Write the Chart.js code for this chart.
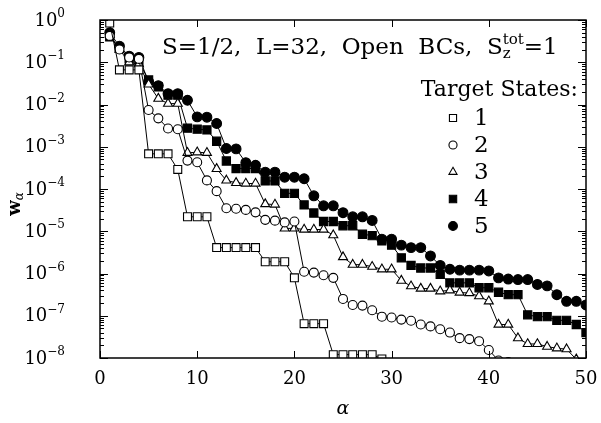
<!DOCTYPE html>
<html lang="en">
<head>
  <meta charset="UTF-8">
  <title>Target state weights, S=1/2 L=32</title>
  <script src="https://cdn.jsdelivr.net/npm/chart.js"></script>
  <style>
    body { margin: 0; background: #fff; }
    #wrap { width: 601px; height: 423px; }
  </style>
</head>
<body>
  <div id="wrap"><canvas id="chart" width="601" height="423"></canvas></div>

  <script>
    // alpha = 1, 2, 3 ... (w_alpha)
    const state1 = [0.85, 0.066, 0.066, 0.066, 6.8e-4, 6.8e-4, 6.8e-4, 2.9e-4, 2.2e-5, 2.2e-5,
      2.2e-5, 4.1e-6, 4.1e-6, 4.1e-6, 4.1e-6, 4.1e-6, 1.9e-6, 1.9e-6, 1.9e-6, 7.9e-7,
      6.5e-8, 6.5e-8, 6.5e-8, 1.2e-8, 1.2e-8, 1.2e-8, 1.2e-8, 1.2e-8, 9.5e-9, 1e-9];
    const state2 = [0.42, 0.2, 0.13, 0.12, 7.4e-3, 4.7e-3, 2.7e-3, 2.6e-3, 4.7e-4, 4.3e-4,
      1.6e-4, 8.9e-5, 3.5e-5, 3.4e-5, 3.2e-5, 2.8e-5, 1.86e-5, 1.78e-5, 1.62e-5, 1.7e-5,
      1.1e-6, 1.05e-6, 9.1e-7, 7.9e-7, 2.5e-7, 1.8e-7, 1.74e-7, 1.35e-7, 9.5e-8, 9.1e-8,
      8.1e-8, 7.6e-8, 6.2e-8, 5.6e-8, 4.8e-8, 4.0e-8, 2.95e-8, 2.8e-8, 2.5e-8, 1.55e-8,
      8.7e-9, 8.0e-9, 1e-9];
    const state3 = [0.45, 0.2, 0.1, 0.09, 0.03, 1.38e-2, 1.05e-2, 1.05e-2, 7.2e-4, 7.4e-4,
      7.2e-4, 3.0e-4, 1.6e-4, 1.4e-4, 1.35e-4, 1.35e-4, 4.4e-5, 4.3e-5, 1.17e-5, 1.17e-5,
      1.1e-5, 1.1e-5, 1.1e-5, 8.1e-6, 2.45e-6, 1.62e-6, 1.62e-6, 1.45e-6, 1.26e-6, 1.26e-6,
      6.8e-7, 5.0e-7, 4.4e-7, 4.4e-7, 3.8e-7, 4.0e-7, 3.55e-7, 3.45e-7, 2.9e-7, 2.2e-7,
      6.2e-8, 6.2e-8, 2.95e-8, 2.15e-8, 2.15e-8, 1.86e-8, 1.7e-8, 1.62e-8, 9.3e-9, 1e-9];
    const state4 = [0.4, 0.22, 0.12, 0.1, 3.8e-2, 2.6e-2, 1.66e-2, 1.66e-2, 2.75e-3, 2.6e-3,
      2.5e-3, 1.35e-3, 4.6e-4, 3.05e-4, 3.05e-4, 3.05e-4, 1.55e-4, 1.55e-4, 7.9e-5, 7.9e-5,
      4.2e-5, 2.7e-5, 1.7e-5, 1.7e-5, 1.35e-5, 1.35e-5, 8.5e-6, 7.9e-6, 5.9e-6, 4.7e-6,
      2.35e-6, 1.55e-6, 1.35e-6, 1.35e-6, 9.5e-7, 6.0e-7, 6.0e-7, 6.0e-7, 4.6e-7, 4.6e-7,
      3.6e-7, 3.15e-7, 3.15e-7, 1.05e-7, 9.5e-8, 9.5e-8, 7.8e-8, 7.8e-8, 6.2e-8, 4.0e-8];
    const state5 = [0.5, 0.24, 0.14, 0.13, 3.5e-2, 2.8e-2, 1.8e-2, 1.8e-2, 1.26e-2, 5.1e-3,
      5.0e-3, 3.55e-3, 9.1e-4, 8.9e-4, 4.2e-4, 3.65e-4, 2.5e-4, 2.5e-4, 1.9e-4, 1.9e-4,
      1.75e-4, 6.9e-5, 4.0e-5, 4.0e-5, 2.75e-5, 2.2e-5, 2.2e-5, 1.8e-5, 6.5e-6, 6.5e-6,
      4.7e-6, 4.1e-6, 4.1e-6, 2.6e-6, 1.55e-6, 1.26e-6, 1.2e-6, 1.2e-6, 1.2e-6, 1.15e-6,
      7.9e-7, 7.4e-7, 7.2e-7, 7.2e-7, 5.5e-7, 5.1e-7, 3.15e-7, 2.2e-7, 2.2e-7, 1.8e-7];

    const stateLabels = ["1", "2", "3", "4", "5"];
    const xTicks = [0, 10, 20, 30, 40, 50];
    const yExponents = [0, -1, -2, -3, -4, -5, -6, -7, -8];

    const SERIF = "'DejaVu Serif', 'Liberation Serif', serif";

    const styles = [
      { pointStyle: "rect", radius: 5.6, fill: "#fff" },
      { pointStyle: "circle", radius: 4.5, fill: "#fff" },
      { pointStyle: "triangle", radius: 5.2, fill: "#fff" },
      { pointStyle: "rect", radius: 5.8, fill: "#000" },
      { pointStyle: "circle", radius: 4.9, fill: "#000" }
    ];

    const allStates = [state1, state2, state3, state4, state5];

    const datasets = allStates.map((vals, i) => ({
      label: stateLabels[i],
      data: vals.map((v, k) => ({ x: k + 1, y: v })),
      showLine: true,
      borderColor: "#000",
      borderWidth: 1,
      backgroundColor: styles[i].fill,
      pointStyle: styles[i].pointStyle,
      pointRadius: styles[i].radius,
      pointBorderColor: "#000",
      pointBackgroundColor: styles[i].fill,
      pointBorderWidth: 1.1,
      tension: 0
    }));

    // frame, inward ticks, y labels, annotation text and the legend block
    const decorations = {
      id: "decorations",
      afterDraw(chart) {
        const { ctx, chartArea: a, scales: { x, y } } = chart;
        ctx.save();
        ctx.strokeStyle = "#000";
        ctx.fillStyle = "#000";

        ctx.lineWidth = 1.5;
        ctx.strokeRect(a.left, a.top, a.right - a.left, a.bottom - a.top);

        ctx.lineWidth = 1;
        ctx.beginPath();
        xTicks.forEach(v => {
          const px = Math.round(x.getPixelForValue(v)) + 0.5;
          ctx.moveTo(px, a.bottom); ctx.lineTo(px, a.bottom - 7);
          ctx.moveTo(px, a.top); ctx.lineTo(px, a.top + 7);
        });
        yExponents.forEach(e => {
          const py = Math.round(y.getPixelForValue(Math.pow(10, e))) + 0.5;
          ctx.moveTo(a.left, py); ctx.lineTo(a.left + 8, py);
          ctx.moveTo(a.right, py); ctx.lineTo(a.right - 8, py);
          if (e < 0) {
            for (let m = 2; m <= 9; m++) {
              const pm = Math.round(y.getPixelForValue(m * Math.pow(10, e))) + 0.5;
              ctx.moveTo(a.left, pm); ctx.lineTo(a.left + 4, pm);
              ctx.moveTo(a.right, pm); ctx.lineTo(a.right - 4, pm);
            }
          }
        });
        ctx.stroke();

        // y tick labels 10^e
        ctx.textBaseline = "middle";
        const labRight = 65;
        yExponents.forEach(e => {
          const py = y.getPixelForValue(Math.pow(10, e));
          const sup = e === 0 ? "0" : "\u2212" + (-e);
          ctx.font = "12px " + SERIF;
          const ws = ctx.measureText(sup).width;
          ctx.textAlign = "left";
          ctx.fillText(sup, labRight - ws, py - 6);
          ctx.font = "18px " + SERIF;
          ctx.textAlign = "right";
          ctx.fillText("10", labRight - ws, py + 1);
        });

        // y axis title w_alpha
        ctx.save();
        ctx.translate(17, 204);
        ctx.rotate(-Math.PI / 2);
        ctx.textAlign = "left";
        ctx.font = "bold 18px " + SERIF;
        const ww = ctx.measureText("w").width;
        ctx.font = "italic 12px " + SERIF;
        const wa = ctx.measureText("\u03b1").width;
        const x0 = -(ww + wa) / 2;
        ctx.font = "bold 18px " + SERIF;
        ctx.fillText("w", x0, -2);
        ctx.font = "italic 12px " + SERIF;
        ctx.fillText("\u03b1", x0 + ww, 3);
        ctx.restore();

        // annotation line
        const big = "23px " + SERIF, small = "15px " + SERIF;
        const part1 = "S=1/2,  L=32,  Open  BCs,  S", part2 = "=1";
        ctx.font = big;
        const w1 = ctx.measureText(part1).width;
        ctx.font = small;
        const wsub = Math.max(ctx.measureText("z").width, ctx.measureText("tot").width);
        const tx = 162;
        const ty = 48;
        ctx.textAlign = "left";
        ctx.font = big; ctx.fillText(part1, tx, ty);
        ctx.font = small;
        ctx.fillText("z", tx + w1, ty + 6);
        ctx.fillText("tot", tx + w1, ty - 8);
        ctx.font = big; ctx.fillText(part2, tx + w1 + wsub, ty);

        // legend block
        ctx.font = "22px " + SERIF;
        ctx.textAlign = "right";
        ctx.fillText("Target States:", 578, 90);
        ctx.textAlign = "left";
        const rowY = [118, 145, 172, 199, 226];
        styles.forEach((s, i) => {
          ctx.fillStyle = s.fill;
          ctx.strokeStyle = "#000";
          ctx.lineWidth = 1.1;
          Chart.helpers.drawPoint(ctx, { pointStyle: s.pointStyle, radius: s.radius * 0.9, borderWidth: 1.1, rotation: 0 }, 453, rowY[i]);
          ctx.fillStyle = "#000";
          ctx.font = big;
          ctx.fillText(stateLabels[i], 474, rowY[i] + 1);
        });
        ctx.restore();
      }
    };

    new Chart(document.getElementById("chart"), {
      type: "scatter",
      data: { datasets },
      options: {
        responsive: false,
        animation: false,
        devicePixelRatio: 1,
        layout: { padding: { top: 20, right: 15, left: 0, bottom: 0 } },
        plugins: { legend: { display: false }, tooltip: { enabled: false } },
        scales: {
          x: {
            type: "linear", min: 0, max: 50,
            afterBuildTicks: s => { s.ticks = xTicks.map(v => ({ value: v })); },
            afterFit: s => { s.height = 65; },
            grid: { display: false },
            border: { display: false },
            ticks: { color: "#000", font: { family: SERIF, size: 18 }, padding: 3, maxRotation: 0 },
            title: { display: true, text: "\u03b1", color: "#000", font: { family: SERIF, size: 19, style: "italic" }, padding: { top: 0, bottom: 3 } }
          },
          y: {
            type: "logarithmic", min: 1e-8, max: 1,
            afterFit: s => { s.width = 100; },
            grid: { display: false },
            border: { display: false },
            ticks: { display: false }
          }
        }
      },
      plugins: [decorations]
    });
  </script>
</body>
</html>
